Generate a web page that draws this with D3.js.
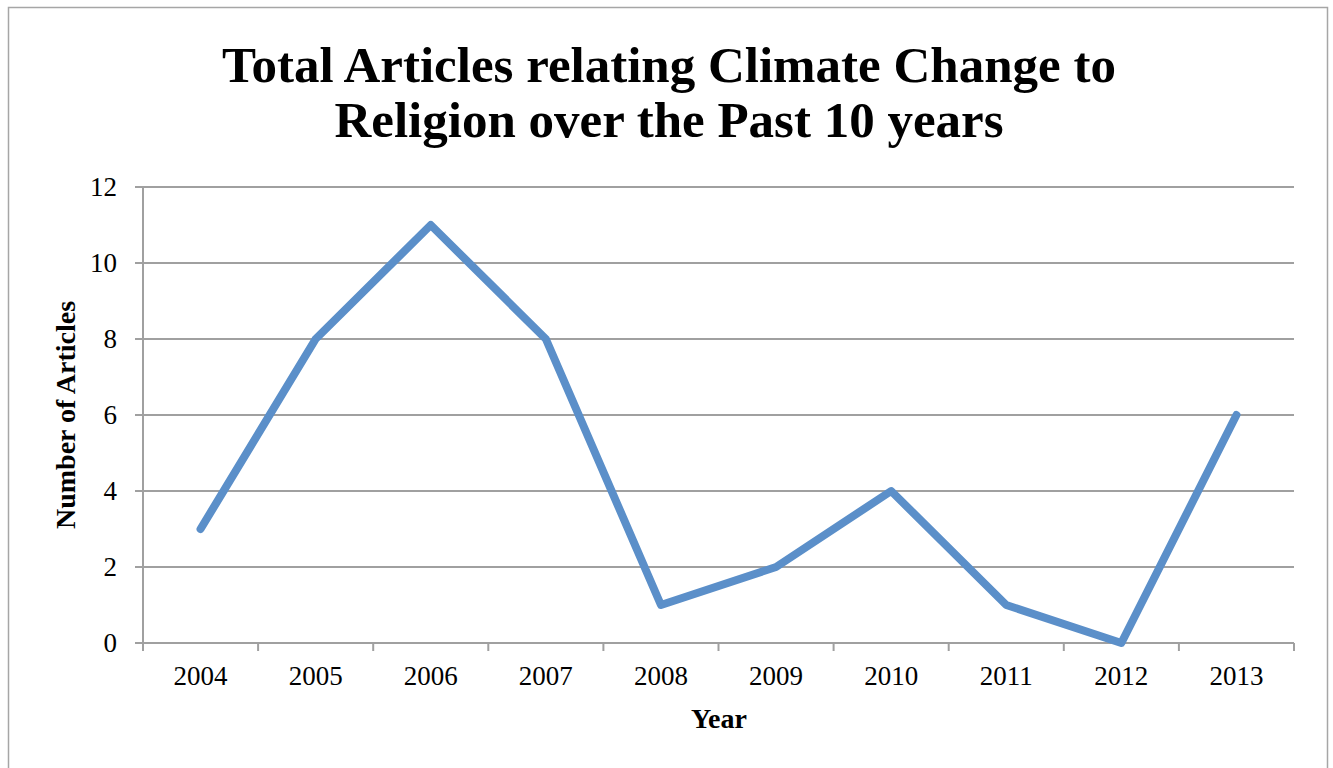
<!DOCTYPE html>
<html>
<head>
<meta charset="utf-8">
<script src="https://cdn.jsdelivr.net/npm/d3@7"></script>
<style>
  body { margin: 0; background: #fff; }
  svg { display: block; }
  text { font-family: "Liberation Serif", "DejaVu Serif", serif; fill: #000; }
</style>
</head>
<body>
<div id="container"></div>
<script>
// dados
var years = ["2004", "2005", "2006", "2007", "2008", "2009", "2010", "2011", "2012", "2013"];
var articles = [3, 8, 11, 8, 1, 2, 4, 1, 0, 6];
var yTicks = [0, 2, 4, 6, 8, 10, 12];

var W = 1333, H = 768;
var margin = { top: 187, left: 143, right: 39, bottom: 125 },
  width = W - margin.left - margin.right,
  height = H - margin.top - margin.bottom;

var svg = d3.select("#container")
  .append("svg")
  .attr("width", W)
  .attr("height", H);

// moldura
svg.append("rect")
  .attr("x", 8.5).attr("y", 7.5)
  .attr("width", 1319).attr("height", 800)
  .attr("fill", "none")
  .attr("stroke", "#a6a6a6")
  .attr("stroke-width", 1.5);

var g = svg.append("g")
  .attr("transform", "translate(" + margin.left + "," + margin.top + ")");

// escalas
var x = d3.scaleBand().domain(years).range([0, width]);
var y = d3.scaleLinear().domain([0, 12]).range([height, 0]);

// grade
g.selectAll(".grid")
  .data(yTicks)
  .enter().append("line")
  .attr("x1", -8).attr("x2", width)
  .attr("y1", function(d) { return y(d) }).attr("y2", function(d) { return y(d) })
  .attr("stroke", "#a0a0a0")
  .attr("stroke-width", 2);

// eixo y
g.append("line")
  .attr("x1", 0).attr("x2", 0)
  .attr("y1", 0).attr("y2", height)
  .attr("stroke", "#a0a0a0").attr("stroke-width", 2);

g.selectAll(".ylab")
  .data(yTicks)
  .enter().append("text")
  .attr("x", -26)
  .attr("y", function(d) { return y(d) })
  .attr("dy", "0.33em")
  .attr("text-anchor", "end")
  .attr("font-size", 27)
  .text(function(d) { return d });

// ticks do eixo x
var xEdges = years.map(function(d) { return x(d) }).concat([width]);
g.selectAll(".xtick")
  .data(xEdges)
  .enter().append("line")
  .attr("x1", function(d) { return d }).attr("x2", function(d) { return d })
  .attr("y1", height).attr("y2", height + 8)
  .attr("stroke", "#a0a0a0").attr("stroke-width", 2);

g.selectAll(".xlab")
  .data(years)
  .enter().append("text")
  .attr("x", function(d) { return x(d) + x.bandwidth() / 2 })
  .attr("y", height + 42)
  .attr("text-anchor", "middle")
  .attr("font-size", 27)
  .text(function(d) { return d });

// linha
var line = d3.line()
  .x(function(d, i) { return x(years[i]) + x.bandwidth() / 2 })
  .y(function(d) { return y(d) });

g.append("path")
  .datum(articles)
  .attr("d", line)
  .attr("fill", "none")
  .attr("stroke", "#5b8fc9")
  .attr("stroke-width", 8)
  .attr("stroke-linejoin", "round")
  .attr("stroke-linecap", "round");

// títulos
svg.append("text")
  .attr("x", 669).attr("y", 82)
  .attr("text-anchor", "middle")
  .attr("font-size", 51)
  .attr("font-weight", "bold")
  .text("Total Articles relating Climate Change to");

svg.append("text")
  .attr("x", 669).attr("y", 137)
  .attr("text-anchor", "middle")
  .attr("font-size", 51)
  .attr("font-weight", "bold")
  .text("Religion over the Past 10 years");

svg.append("text")
  .attr("x", 719).attr("y", 728)
  .attr("text-anchor", "middle")
  .attr("font-size", 28)
  .attr("font-weight", "bold")
  .text("Year");

svg.append("text")
  .attr("transform", "translate(75,415) rotate(-90)")
  .attr("text-anchor", "middle")
  .attr("font-size", 28)
  .attr("font-weight", "bold")
  .text("Number of Articles");
</script>
</body>
</html>
